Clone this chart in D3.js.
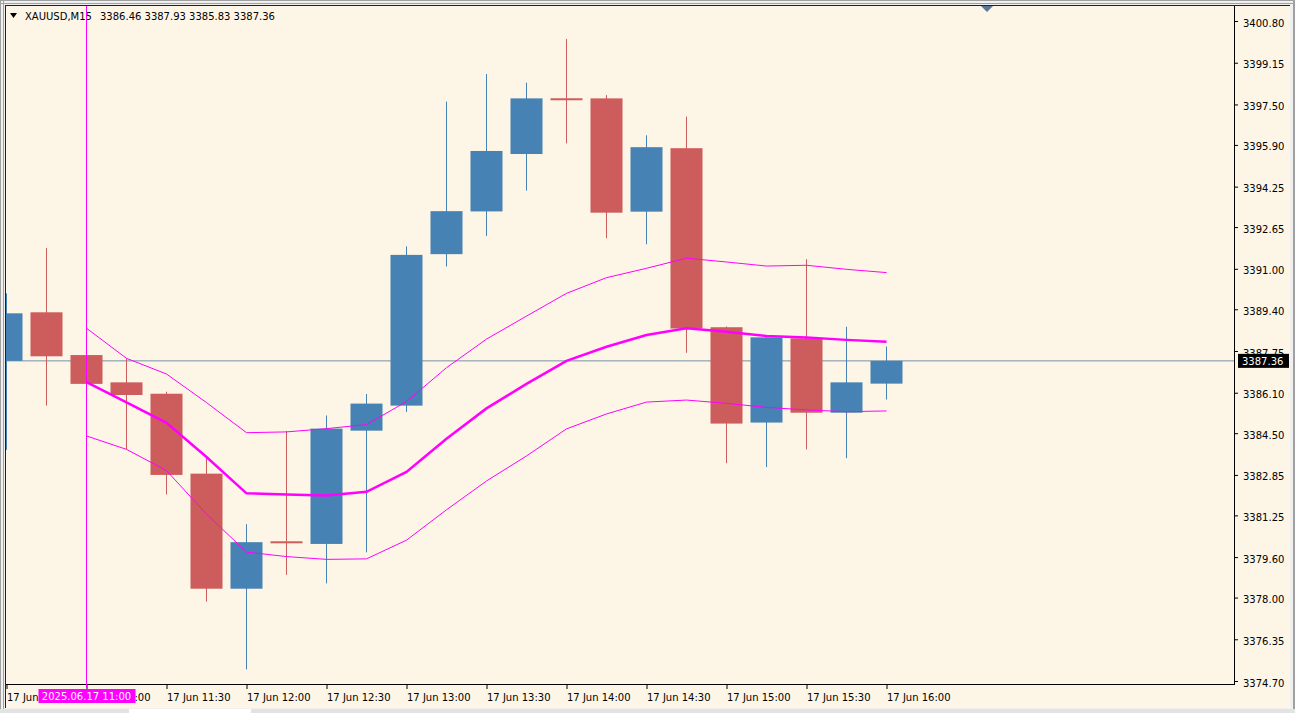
<!DOCTYPE html>
<html><head><meta charset="utf-8">
<script src="https://cdn.jsdelivr.net/npm/d3@7"></script>
<style>
html,body{margin:0;padding:0;background:#f0f0f0;overflow:hidden}
svg{display:block}
text{font-family:"DejaVu Sans",Verdana,sans-serif;font-size:10px}
</style></head>
<body>
<svg id="c" width="1295" height="713"></svg>
<script>
const symbol = "XAUUSD,M15";
const headerValues = ["3386.46","3387.93","3385.83","3387.36"];
const times = ["10:30","10:45","11:00","11:15","11:30","11:45","12:00","12:15","12:30","12:45","13:00","13:15","13:30","13:45","14:00","14:15","14:30","14:45","15:00","15:15","15:30","15:45","16:00"];
const open  = [3387.36,3389.28,3387.59,3386.51,3386.06,3382.90,3378.35,3380.20,3380.12,3384.60,3385.59,3391.58,3393.27,3395.54,3397.72,3397.74,3393.26,3395.77,3388.69,3384.92,3388.25,3385.31,3386.46];
const high  = [3390.03,3391.82,3387.62,3387.46,3386.14,3383.51,3380.90,3384.59,3385.20,3386.05,3391.89,3397.61,3398.70,3398.36,3400.09,3397.87,3396.28,3397.02,3388.72,3388.32,3391.38,3388.71,3387.93];
const low   = [3383.84,3385.59,3386.40,3383.86,3382.08,3377.84,3375.16,3378.90,3378.56,3379.79,3385.34,3391.09,3392.30,3394.09,3395.96,3392.21,3391.97,3387.68,3383.31,3383.16,3383.86,3383.51,3385.83];
const close = [3389.24,3387.54,3386.45,3386.01,3382.85,3378.35,3380.19,3380.17,3384.68,3385.67,3391.55,3393.28,3395.66,3397.74,3397.69,3393.22,3395.81,3388.64,3384.88,3388.29,3385.31,3386.51,3387.36];
const bandMid   = [null,null,3386.52,3385.72,3384.91,3383.56,3382.12,3382.08,3382.04,3382.18,3382.97,3384.28,3385.48,3386.45,3387.36,3387.92,3388.38,3388.65,3388.51,3388.34,3388.28,3388.19,3388.12];
const bandUpper = [null,null,3388.65,3387.46,3386.84,3385.71,3384.52,3384.55,3384.68,3384.84,3385.75,3387.09,3388.22,3389.13,3390.03,3390.65,3391.02,3391.42,3391.27,3391.11,3391.14,3390.98,3390.85];
const bandLower = [null,null,3384.39,3383.86,3383.02,3381.30,3379.80,3379.62,3379.51,3379.53,3380.27,3381.47,3382.61,3383.60,3384.67,3385.26,3385.73,3385.81,3385.68,3385.52,3385.42,3385.35,3385.38];
const priceTicks = [3400.80,3399.15,3397.50,3395.90,3394.25,3392.65,3391.00,3389.40,3387.75,3386.10,3384.50,3382.85,3381.25,3379.60,3378.00,3376.35,3374.70];
const timeTickIdx = [0,2,4,6,8,10,12,14,16,18,20,22];
const dateLabel = "17 Jun";
const currentPrice = 3387.36;
const cursorIdx = 2;
const cursorLabel = "2025.06.17 11:00";

const W=1295,H=713;
const L=6,R=1234,T=6,B=684;
const bull="#4682b4", bear="#cd5c5c", bg="#fdf5e6", band="#ff00ff";

const svg=d3.select("#c");
const x=d3.scaleLinear().domain([0,times.length-1]).range([6.5,6.5+40*(times.length-1)]);
const y=d3.scaleLinear().domain([3374.70,3400.80]).range([681,21]);

// frame
svg.append("rect").attr("x",0).attr("y",0).attr("width",W).attr("height",H).attr("fill","#f0f0f0");
svg.append("rect").attr("x",0).attr("y",0).attr("width",W).attr("height",1).attr("fill","#a0a0a0");
svg.append("rect").attr("x",0).attr("y",3).attr("width",W).attr("height",1).attr("fill","#a0a0a0");
svg.append("rect").attr("x",0).attr("y",0).attr("width",1).attr("height",H).attr("fill","#a0a0a0");
svg.append("rect").attr("x",3).attr("y",0).attr("width",1).attr("height",H).attr("fill","#a0a0a0");
svg.append("rect").attr("x",W-2).attr("y",0).attr("width",2).attr("height",H).attr("fill","#a0a0a0");
svg.append("rect").attr("x",L-1).attr("y",T-1).attr("width",1290-L+1).attr("height",708-T+1).attr("fill","#202020");
svg.append("rect").attr("x",L).attr("y",T).attr("width",1290-L).attr("height",708-T).attr("fill",bg);
svg.append("rect").attr("x",0).attr("y",709).attr("width",W).attr("height",4).attr("fill","#e3e3e3");
svg.append("rect").attr("x",129).attr("y",709).attr("width",122).attr("height",4).attr("fill","#ffffff");

svg.append("defs").append("clipPath").attr("id","plot").append("rect")
  .attr("x",L).attr("y",T).attr("width",R-L).attr("height",B-T);
const g=svg.append("g").attr("clip-path","url(#plot)");

// current price line (behind candles)
g.append("line").attr("x1",L).attr("x2",R).attr("y1",y(currentPrice)).attr("y2",y(currentPrice))
  .attr("stroke","#7890a8").attr("stroke-width",1);

// candles
const idx=d3.range(times.length);
const cg=g.append("g");
cg.selectAll("line.w").data(idx).join("line").attr("class","w")
  .attr("x1",i=>x(i)).attr("x2",i=>x(i))
  .attr("y1",i=>y(high[i])).attr("y2",i=>y(low[i]))
  .attr("stroke",i=>close[i]>=open[i]?bull:bear).attr("stroke-width",1);
cg.selectAll("rect.b").data(idx).join("rect").attr("class","b")
  .attr("x",i=>x(i)-16).attr("width",32)
  .attr("y",i=>{const t=Math.min(y(open[i]),y(close[i])),h=Math.abs(y(open[i])-y(close[i]));return h<2?(y(open[i])+y(close[i]))/2-1:t;})
  .attr("height",i=>Math.max(2,Math.abs(y(open[i])-y(close[i]))))
  .attr("fill",i=>close[i]>=open[i]?bull:bear);

// bands
const mk=arr=>d3.line().defined(i=>arr[i]!=null).x(i=>x(i)).y(i=>y(arr[i]));
g.append("path").attr("d",mk(bandUpper)(idx)).attr("fill","none").attr("stroke",band).attr("stroke-width",1);
g.append("path").attr("d",mk(bandLower)(idx)).attr("fill","none").attr("stroke",band).attr("stroke-width",1);
g.append("path").attr("d",mk(bandMid)(idx)).attr("fill","none").attr("stroke",band).attr("stroke-width",2.5);

// borders of plot
svg.append("line").attr("x1",R+0.5).attr("x2",R+0.5).attr("y1",T).attr("y2",B+1).attr("stroke","#000");
svg.append("line").attr("x1",L).attr("x2",R+1).attr("y1",B+0.5).attr("y2",B+0.5).attr("stroke","#000");

// right axis
const ya=svg.append("g").attr("transform",`translate(${R+1},0)`)
  .call(d3.axisRight(y).tickValues(priceTicks).tickFormat(d3.format(".2f")).tickSize(3).tickPadding(5));
ya.select(".domain").remove();
ya.selectAll("line").attr("stroke","#000");
ya.selectAll("text").attr("fill","#000").attr("dy","0.5em").style("font-family","DejaVu Sans").style("font-size","10px");

// bottom axis
const xa=svg.append("g").attr("transform",`translate(0,${B+1})`)
  .call(d3.axisBottom(x).tickValues(timeTickIdx).tickFormat(i=>dateLabel+" "+times[i]).tickSize(4).tickPadding(4));
xa.select(".domain").remove();
xa.selectAll("line").attr("stroke","#000");
xa.selectAll("text").attr("fill","#000").attr("text-anchor","start").attr("y",8).attr("dy","0.75em")
  .style("font-family","DejaVu Sans").style("font-size","10px");

// shift marker
svg.append("path").attr("d",`M981,6L993,6L987,12Z`).attr("fill","#5a7896");

// header
svg.append("path").attr("d","M10,13L17,13L13.5,18Z").attr("fill","#000");
svg.append("text").attr("x",25).attr("y",20).attr("fill","#000").text(symbol);
svg.append("text").attr("x",100).attr("y",20).attr("fill","#000").text(headerValues.join(" "));

// cursor vertical line
svg.append("line").attr("x1",x(cursorIdx)).attr("x2",x(cursorIdx)).attr("y1",T).attr("y2",B+4)
  .attr("stroke",band).attr("stroke-width",1);
const cx=x(cursorIdx);
svg.append("rect").attr("x",cx-48).attr("y",689).attr("width",97).attr("height",14).attr("fill",band);
svg.append("text").attr("x",cx).attr("y",700).attr("text-anchor","middle").attr("fill","#fff").text(cursorLabel);

// current price label
const cy=y(currentPrice);
svg.append("rect").attr("x",R+4).attr("y",cy-7).attr("width",51).attr("height",14).attr("fill","#000");
svg.append("text").attr("x",R+8).attr("y",cy+4).attr("fill","#fff").text(d3.format(".2f")(currentPrice));
</script>
</body></html>
